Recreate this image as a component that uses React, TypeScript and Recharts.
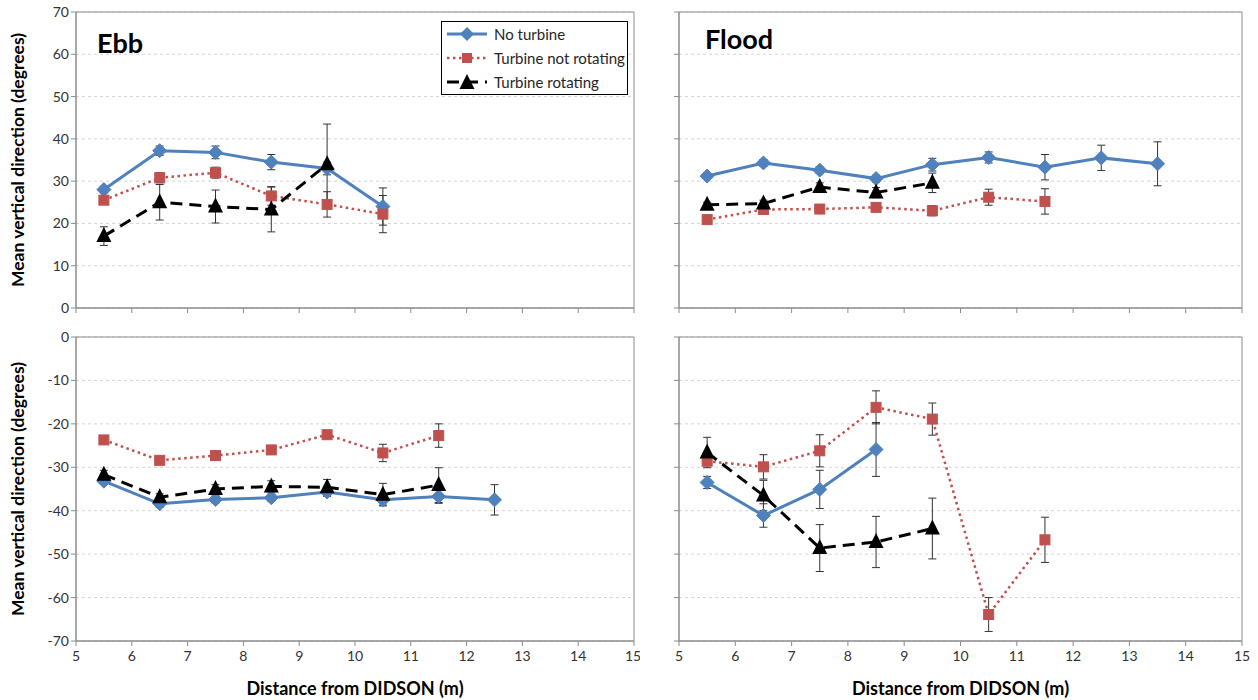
import React from 'react';
import { LineChart, Line, XAxis, YAxis, CartesianGrid, ErrorBar, ReferenceArea } from 'recharts';

// distance bins from the DIDSON (m)
const distances = [5.5, 6.5, 7.5, 8.5, 9.5, 10.5, 11.5, 12.5, 13.5];
const xTicks = [5, 6, 7, 8, 9, 10, 11, 12, 13, 14, 15];
const upTicks = [0, 10, 20, 30, 40, 50, 60, 70];
const downTicks = [-70, -60, -50, -40, -30, -20, -10, 0];

// Ebb, upward
const ebbUpNoTurbine = [28.0, 37.2, 36.8, 34.5, 33.0, 24.0];
const ebbUpNoTurbineErr = [0.8, 1.1, 1.5, 1.8, 1.5, 4.4];
const ebbUpNotRotating = [25.5, 30.8, 32.0, 26.5, 24.5, 22.2];
const ebbUpNotRotatingErr = [0.9, 1.2, 1.3, 2.2, 3.0, 4.4];
const ebbUpRotating = [17.0, 25.0, 24.0, 23.3, 34.0];
const ebbUpRotatingErr = [2.2, 4.2, 3.9, 5.3, 9.5];

// Flood, upward
const floodUpNoTurbine = [31.2, 34.3, 32.6, 30.6, 33.9, 35.6, 33.3, 35.5, 34.1];
const floodUpNoTurbineErr = [0.6, 0.8, 0.8, 0.8, 1.5, 1.3, 3.0, 3.0, 5.2];
const floodUpNotRotating = [20.9, 23.3, 23.4, 23.8, 23.0, 26.2, 25.2];
const floodUpNotRotatingErr = [0.6, 0.6, 0.7, 0.8, 1.2, 1.9, 3.0];
const floodUpRotating = [24.4, 24.7, 28.6, 27.3, 29.6];
const floodUpRotatingErr = [0.6, 0.8, 1.0, 1.2, 2.3];

// Ebb, downward
const ebbDownNoTurbine = [-33.2, -38.4, -37.4, -37.0, -35.7, -37.5, -36.7, -37.5];
const ebbDownNoTurbineErr = [0.6, 0.8, 0.8, 0.8, 1.0, 1.2, 1.6, 3.5];
const ebbDownNotRotating = [-23.7, -28.4, -27.3, -26.0, -22.5, -26.7, -22.7];
const ebbDownNotRotatingErr = [0.5, 0.6, 0.6, 0.6, 0.7, 2.0, 2.7];
const ebbDownRotating = [-31.7, -36.9, -35.0, -34.4, -34.6, -36.3, -34.1];
const ebbDownRotatingErr = [1.0, 0.8, 1.0, 1.3, 1.8, 2.6, 4.0];

// Flood, downward
const floodDownNoTurbine = [-33.5, -41.1, -35.1, -25.9];
const floodDownNoTurbineErr = [1.4, 2.7, 4.4, 6.2];
const floodDownNotRotating = [-28.6, -29.9, -26.2, -16.2, -18.9, -63.9, -46.7];
const floodDownNotRotatingErr = [1.0, 2.8, 3.7, 3.8, 3.7, 3.9, 5.2];
const floodDownRotating = [-26.6, -36.5, -48.6, -47.2, -44.1];
const floodDownRotatingErr = [3.5, 3.5, 5.4, 5.9, 7.0];

const BLUE = '#4F81BD';
const RED = '#C0504D';
const FONT = 'Lato, "Liberation Sans", sans-serif';

const rows = (vals: number[], errs: number[]) =>
  vals.map((y, i) => ({ x: distances[i], y, err: errs[i] }));

const Diamond = (p: any) => {
  const { cx, cy } = p;
  if (cx == null || cy == null) return null;
  return <polygon points={`${cx},${cy - 7} ${cx + 7},${cy} ${cx},${cy + 7} ${cx - 7},${cy}`} fill={BLUE} stroke={BLUE} />;
};
const Square = (p: any) => {
  const { cx, cy } = p;
  if (cx == null || cy == null) return null;
  return <rect x={cx - 5} y={cy - 5} width={10} height={10} fill={RED} stroke={RED} />;
};
const Triangle = (p: any) => {
  const { cx, cy } = p;
  if (cx == null || cy == null) return null;
  return <polygon points={`${cx},${cy - 9} ${cx + 7.5},${cy + 6} ${cx - 7.5},${cy + 6}`} fill="#000" />;
};

interface PanelProps {
  left: number;
  top: number;
  width: number;
  height: number;
  down: boolean;
  showY: boolean;
  noTurbine: number[];
  noTurbineErr: number[];
  notRotating: number[];
  notRotatingErr: number[];
  rotating: number[];
  rotatingErr: number[];
}

const Panel: React.FC<PanelProps> = (p) => {
  const domain = p.down ? [-70, 0] : [0, 70];
  const ticks = p.down ? downTicks : upTicks;
  const tickStyle = { fontSize: 14, fill: '#333', fontFamily: FONT };
  return (
    <div style={{ position: 'absolute', left: p.left, top: p.top }}>
      <LineChart
        width={p.width}
        height={p.height}
        margin={{ top: p.down ? 17 : 12, right: p.showY ? 6 : 16, bottom: 0, left: 0 }}
      >
        <CartesianGrid vertical={false} stroke="#D4D4D4" strokeDasharray="3 3" />
        <ReferenceArea x1={5} x2={15} y1={domain[0]} y2={domain[1]} fill="none" stroke="#8C8C8C" strokeWidth={1} />
        <XAxis
          type="number"
          dataKey="x"
          domain={[5, 15]}
          ticks={xTicks}
          allowDuplicatedCategory={false}
          height={p.down ? 59 : 12}
          stroke="#8C8C8C"
          tickSize={5}
          tick={{ ...tickStyle, dy: 3 }}
          tickFormatter={p.down ? undefined : () => ''}
          label={
            p.down
              ? { value: 'Distance from DIDSON (m)', position: 'insideBottom', offset: 5, style: { fontSize: 18, fontWeight: 700, fill: '#000', fontFamily: FONT } }
              : undefined
          }
        />
        <YAxis
          type="number"
          domain={domain}
          ticks={ticks}
          width={p.showY ? 76 : 39}
          stroke="#8C8C8C"
          tickSize={5}
          tick={tickStyle}
          tickFormatter={p.showY ? undefined : () => ''}
          label={
            p.showY
              ? { value: 'Mean vertical direction (degrees)', angle: -90, position: 'insideLeft', offset: 18, style: { textAnchor: 'middle', fontSize: 17.5, fontWeight: 700, fill: '#000', fontFamily: FONT } }
              : undefined
          }
        />
        <Line
          data={rows(p.noTurbine, p.noTurbineErr)}
          dataKey="y"
          stroke={BLUE}
          strokeWidth={3}
          dot={Diamond}
          activeDot={false}
          isAnimationActive={false}
        >
          <ErrorBar dataKey="err" direction="y" width={4} stroke="#333" strokeWidth={1} />
        </Line>
        <Line
          data={rows(p.notRotating, p.notRotatingErr)}
          dataKey="y"
          stroke={RED}
          strokeWidth={2.5}
          strokeDasharray="2.5 3.5"
          dot={Square}
          activeDot={false}
          isAnimationActive={false}
        >
          <ErrorBar dataKey="err" direction="y" width={4} stroke="#333" strokeWidth={1} />
        </Line>
        <Line
          data={rows(p.rotating, p.rotatingErr)}
          dataKey="y"
          stroke="#000"
          strokeWidth={3}
          strokeDasharray="12 7"
          dot={Triangle}
          activeDot={false}
          isAnimationActive={false}
        >
          <ErrorBar dataKey="err" direction="y" width={4} stroke="#333" strokeWidth={1} />
        </Line>
      </LineChart>
    </div>
  );
};

const LegendBox = () => {
  const item = (label: string, icon: React.ReactNode) => (
    <div style={{ display: 'flex', alignItems: 'center', height: 24 }}>
      <svg width={44} height={16} style={{ marginRight: 5 }}>{icon}</svg>
      <span>{label}</span>
    </div>
  );
  return (
    <div
      style={{
        position: 'absolute', left: 441, top: 21, width: 187, height: 74,
        border: '1px solid #000', background: '#fff', fontFamily: FONT,
        fontSize: 15, color: '#262626', paddingLeft: 3, boxSizing: 'border-box', paddingTop: 0,
      }}
    >
      {item('No turbine', <>
        <line x1={2} y1={8} x2={42} y2={8} stroke={BLUE} strokeWidth={3} />
        <polygon points="22,1 29,8 22,15 15,8" fill={BLUE} />
      </>)}
      {item('Turbine not rotating', <>
        <line x1={2} y1={8} x2={42} y2={8} stroke={RED} strokeWidth={2.5} strokeDasharray="2.5 3.5" />
        <rect x={17} y={3} width={10} height={10} fill={RED} />
      </>)}
      {item('Turbine rotating', <>
        <line x1={2} y1={8} x2={42} y2={8} stroke="#000" strokeWidth={3} strokeDasharray="12 7" />
        <polygon points="22,0 29.5,15 14.5,15" fill="#000" />
      </>)}
    </div>
  );
};

const title = (text: string, left: number, top: number) => (
  <div style={{ position: 'absolute', left, top, fontFamily: FONT, fontWeight: 700, fontSize: 27, color: '#000' }}>{text}</div>
);

export default function App() {
  return (
    <div style={{ position: 'absolute', left: 0, top: 0, width: 1258, height: 700, background: '#fff' }}>
      <Panel left={0} top={0} width={640} height={320} down={false} showY
        noTurbine={ebbUpNoTurbine} noTurbineErr={ebbUpNoTurbineErr}
        notRotating={ebbUpNotRotating} notRotatingErr={ebbUpNotRotatingErr}
        rotating={ebbUpRotating} rotatingErr={ebbUpRotatingErr} />
      <Panel left={640} top={0} width={618} height={320} down={false} showY={false}
        noTurbine={floodUpNoTurbine} noTurbineErr={floodUpNoTurbineErr}
        notRotating={floodUpNotRotating} notRotatingErr={floodUpNotRotatingErr}
        rotating={floodUpRotating} rotatingErr={floodUpRotatingErr} />
      <Panel left={0} top={320} width={640} height={380} down showY
        noTurbine={ebbDownNoTurbine} noTurbineErr={ebbDownNoTurbineErr}
        notRotating={ebbDownNotRotating} notRotatingErr={ebbDownNotRotatingErr}
        rotating={ebbDownRotating} rotatingErr={ebbDownRotatingErr} />
      <Panel left={640} top={320} width={618} height={380} down showY={false}
        noTurbine={floodDownNoTurbine} noTurbineErr={floodDownNoTurbineErr}
        notRotating={floodDownNotRotating} notRotatingErr={floodDownNotRotatingErr}
        rotating={floodDownRotating} rotatingErr={floodDownRotatingErr} />
      {title('Ebb', 97, 26)}
      {title('Flood', 705, 22)}
      <LegendBox />
    </div>
  );
}
